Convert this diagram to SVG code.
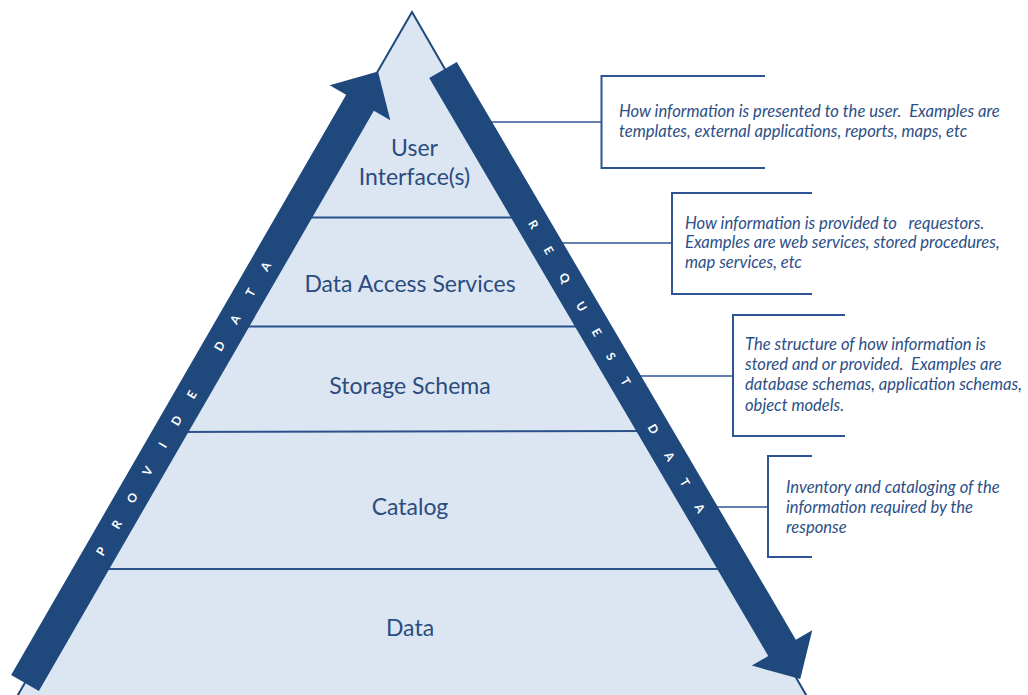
<svg xmlns="http://www.w3.org/2000/svg" width="1028" height="695" viewBox="0 0 1028 695">
<style>
.bg{fill:#ffffff}
.pyr{fill:#dce6f2;stroke:#1f497d;stroke-width:2}
.sep{stroke:#2a5189;stroke-width:2;fill:none}
.lbl{font-family:Lato,"Liberation Sans",sans-serif;font-size:23px;fill:#2b4c7e;text-anchor:middle}
.arw{fill:#1f497d}
.alt{font-family:Lato,"Liberation Sans",sans-serif;font-size:12px;font-weight:bold;fill:#ffffff;text-anchor:middle}
.brk{stroke:#2f5496;stroke-width:2;fill:none}
.con{stroke:#2f5496;stroke-width:1.6;fill:none}
.txt{font-family:Lato,"Liberation Sans",sans-serif;font-size:16.6px;font-style:italic;fill:#2d4f86}
</style>
<rect class="bg" x="0" y="0" width="1028" height="695"/>
<g id="pyramid">
<polygon class="pyr" points="412,12 0.6,725 823.4,725"/>
</g>
<g id="connectors">
<line class="con" x1="475" y1="122" x2="601.5" y2="122"/>
<line class="con" x1="545" y1="243" x2="672" y2="243"/>
<line class="con" x1="622" y1="376" x2="733" y2="376"/>
<line class="con" x1="697" y1="507" x2="768" y2="507"/>
</g>
<g id="layer-user-interface">
<text class="lbl" x="414.5" y="156">User</text>
<text class="lbl" x="414.5" y="185">Interface(s)</text>
<line class="sep" x1="293" y1="217.5" x2="531" y2="217.5"/>
</g>
<g id="layer-data-access-services">
<text class="lbl" x="410" y="292">Data Access Services</text>
<line class="sep" x1="230" y1="326.5" x2="594" y2="326.5"/>
</g>
<g id="layer-storage-schema">
<text class="lbl" x="410" y="394">Storage Schema</text>
<line class="sep" x1="169" y1="432" x2="655" y2="431"/>
</g>
<g id="layer-catalog">
<text class="lbl" x="410" y="515">Catalog</text>
<line class="sep" x1="90" y1="569" x2="734" y2="569"/>
</g>
<g id="layer-data">
<text class="lbl" x="410" y="636">Data</text>
</g>
<g id="arrow-provide-data" transform="translate(25,683) rotate(-60)">
<polygon class="arw" points="0,-16 670,-16 670,-35 706,0 670,35 670,16 0,16"/>
<text class="alt" y="4.5" x="152 183 214 245 275 303 333 361 389 420 451 481">PROVIDE DATA</text>
</g>
<g id="arrow-request-data" transform="translate(443,70) rotate(59.6)">
<polygon class="arw" points="0,-16 670,-16 670,-35 706,0 670,35 670,16 0,16"/>
<text class="alt" y="4.5" x="179 209 241 274 304 332 361 389 416 448 478 508">REQUEST DATA</text>
</g>
<g id="callout-user-interface">
<path class="brk" d="M765,76 H601.5 V168 H765"/>
<text class="txt" xml:space="preserve" x="619" y="117">How information is presented to the user.  Examples are</text>
<text class="txt" xml:space="preserve" x="619" y="137">templates, external applications, reports, maps, etc</text>
</g>
<g id="callout-data-access-services">
<path class="brk" d="M812,193 H672 V294 H812"/>
<text class="txt" xml:space="preserve" x="685" y="229">How information is provided to   requestors.</text>
<text class="txt" xml:space="preserve" x="685" y="248">Examples are web services, stored procedures,</text>
<text class="txt" xml:space="preserve" x="685" y="268">map services, etc</text>
</g>
<g id="callout-storage-schema">
<path class="brk" d="M845,315 H733 V436 H845"/>
<text class="txt" xml:space="preserve" x="745" y="350">The structure of how information is</text>
<text class="txt" xml:space="preserve" x="745" y="370">stored and or provided.  Examples are</text>
<text class="txt" xml:space="preserve" x="745" y="390">database schemas, application schemas,</text>
<text class="txt" xml:space="preserve" x="745" y="411">object models.</text>
</g>
<g id="callout-catalog">
<path class="brk" d="M812,456 H768 V557 H812"/>
<text class="txt" xml:space="preserve" x="786" y="493">Inventory and cataloging of the</text>
<text class="txt" xml:space="preserve" x="786" y="513">information required by the</text>
<text class="txt" xml:space="preserve" x="786" y="533">response</text>
</g>
</svg>
